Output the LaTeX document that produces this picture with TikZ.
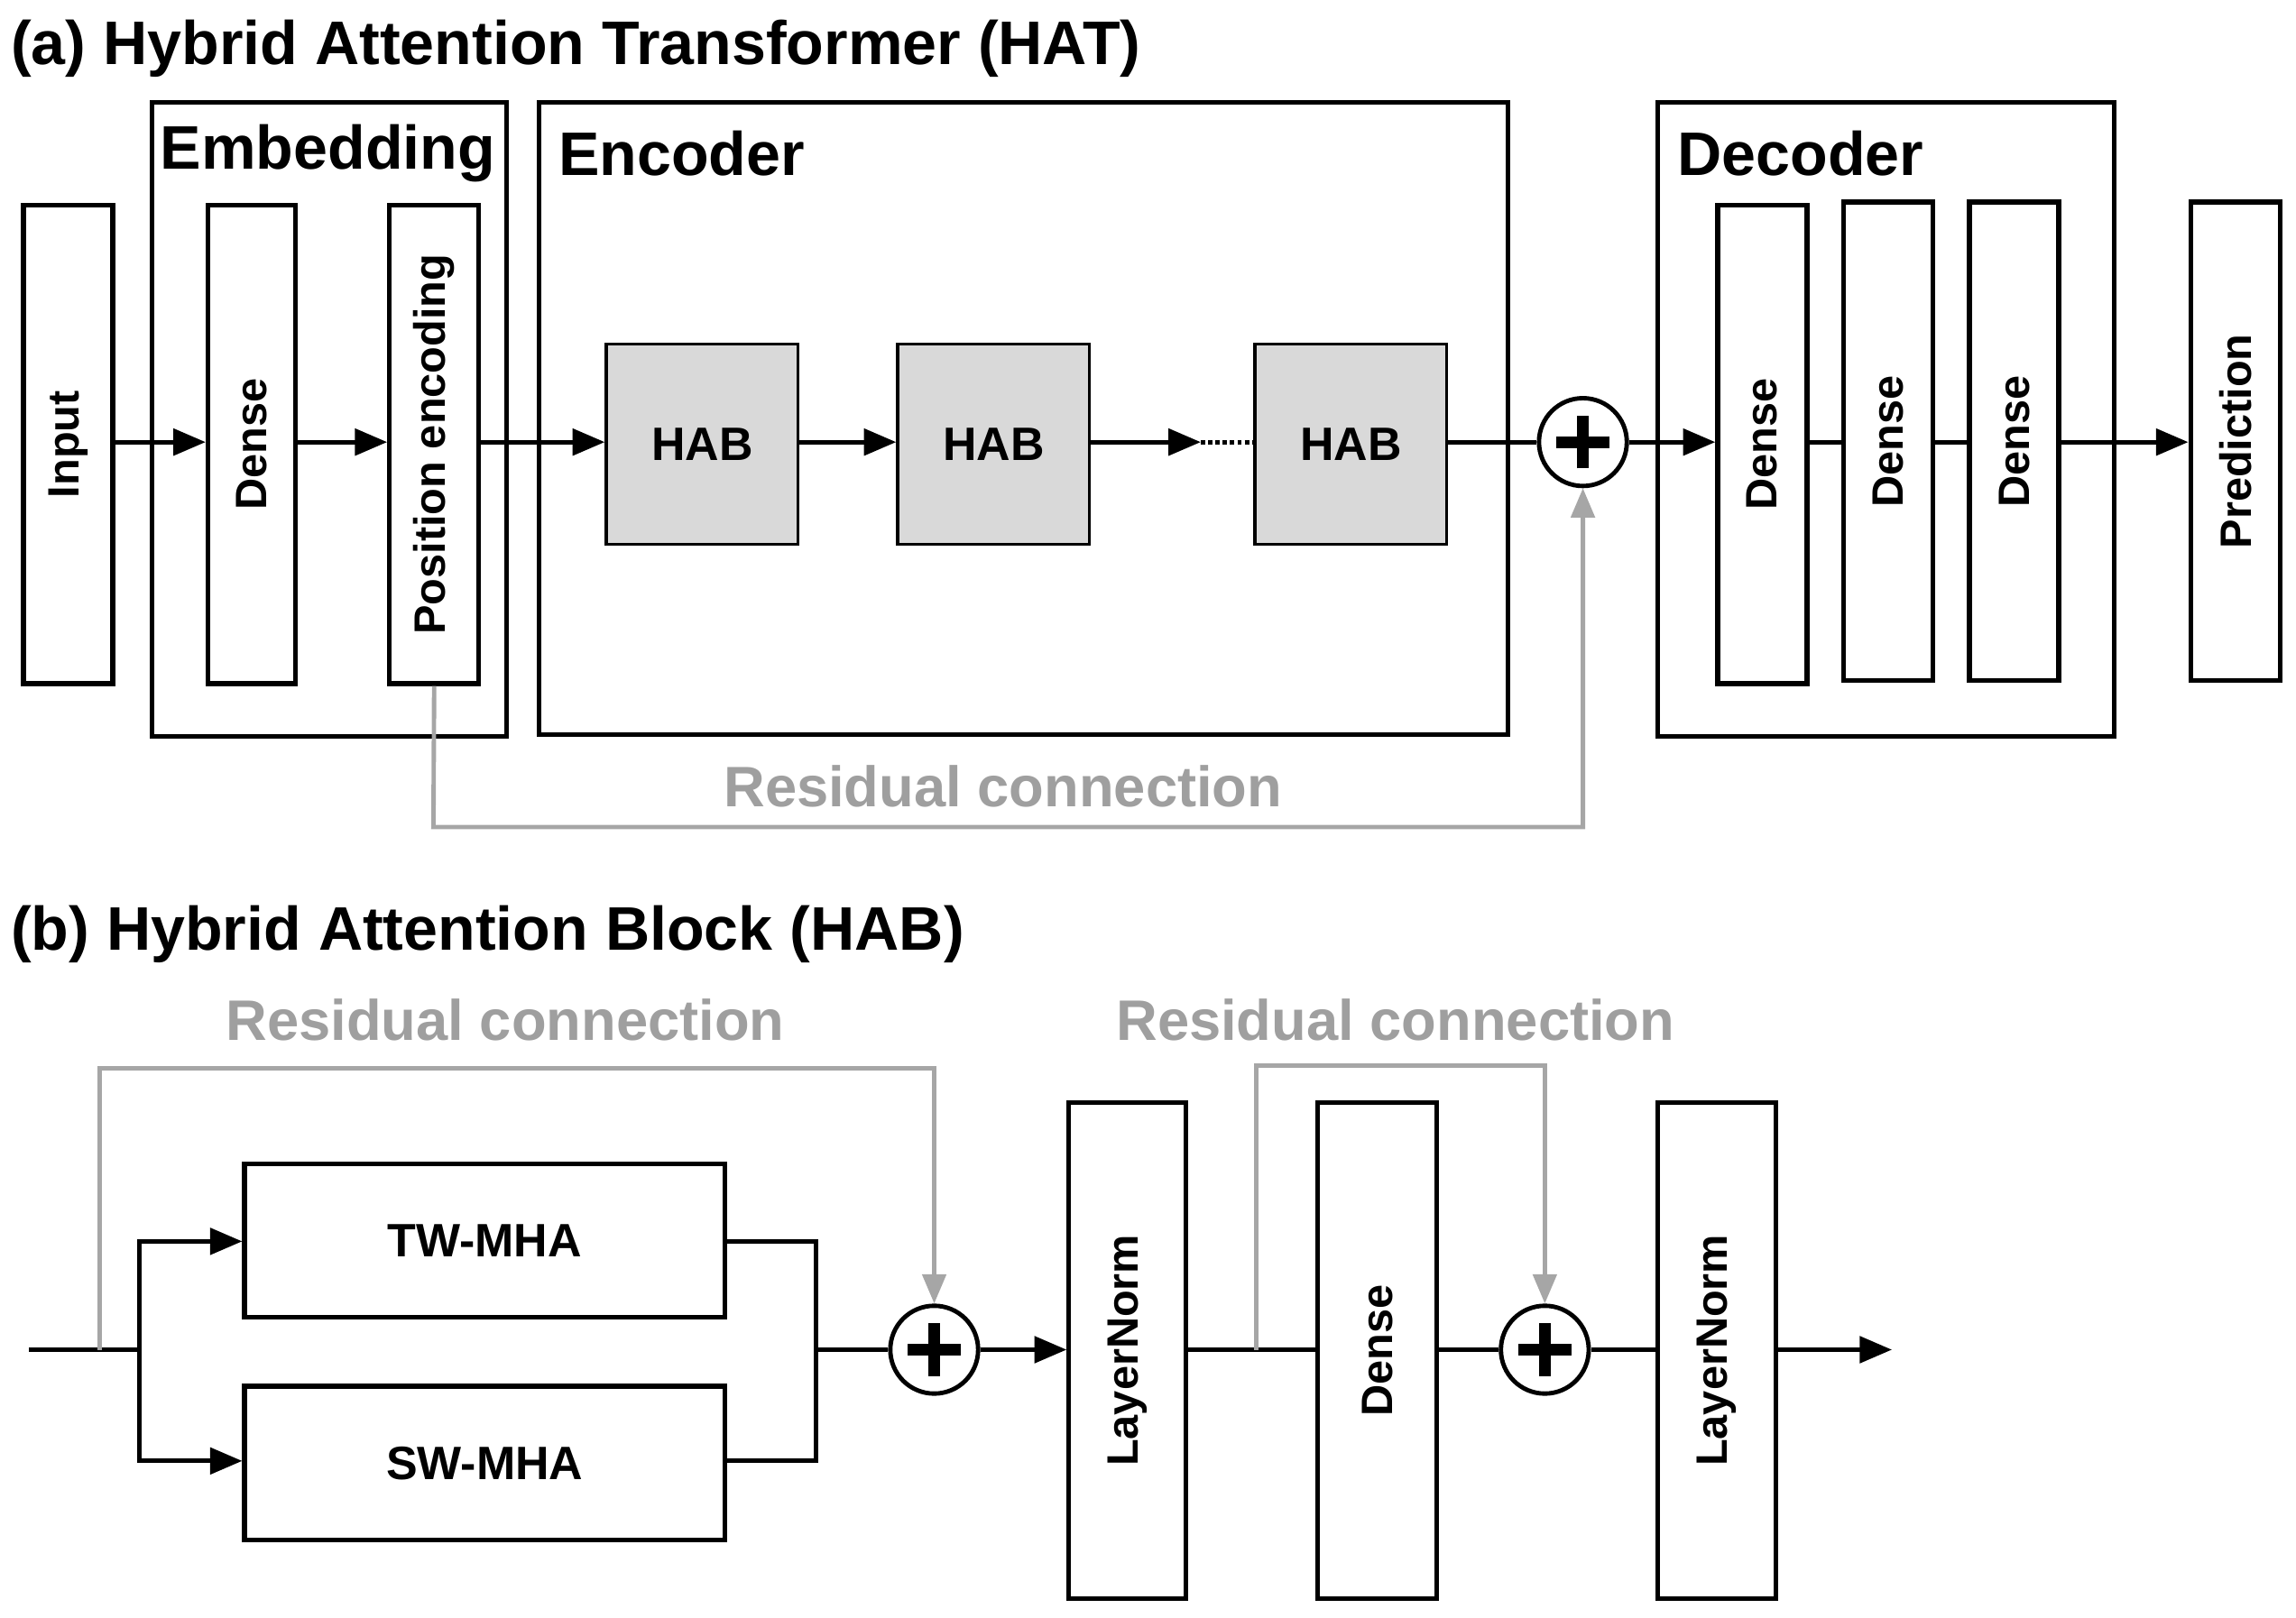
\documentclass[tikz,border=0pt]{standalone}
\usepackage{fontspec}
\setmainfont{Liberation Sans}
\usetikzlibrary{arrows.meta}
\begin{document}
\begin{tikzpicture}[x=1pt,y=-1pt,
 box/.style={draw,line width=3.2pt,inner sep=0pt},
 hab/.style={box,fill=gray!30,line width=2pt},
 vt/.style={rotate=90,font=\fontsize{30}{32}\selectfont\bfseries},
 ttl/.style={anchor=west,font=\fontsize{42}{44}\selectfont\bfseries},
 gl/.style={font=\fontsize{39}{41}\selectfont\bfseries,text=gray!75},
 ar/.style={line width=3pt,-{Triangle[length=22pt,width=18pt]}},
 ln/.style={line width=3pt},
 gar/.style={line width=3pt,draw=gray!70,-{Triangle[length=20pt,width=16pt]}},
 hb/.style={hab,minimum width=131pt,minimum height=137pt,font=\fontsize{32}{34}\selectfont\bfseries},
 plus/.style={circle,draw,line width=3pt,minimum size=60pt,inner sep=0pt,
   path picture={\draw[line width=8pt] ([xshift=-18pt]path picture bounding box.center)--([xshift=18pt]path picture bounding box.center);
   \draw[line width=8pt] ([yshift=-18pt]path picture bounding box.center)--([yshift=18pt]path picture bounding box.center);}}]
\useasboundingbox (0,0) rectangle (1568,1105);
% (a)
\node[ttl] (ta) at (4,33) {(a) Hybrid Attention Transformer (HAT)};
\draw[box] (104,70) rectangle (346,503);
\node[ttl] (le) at (106,105) {Embedding};
\draw[box] (368,70) rectangle (1030,502);
\node[ttl] (lenc) at (378,105) {Encoder};
\draw[box] (1132,70) rectangle (1444,503);
\node[ttl] (ldec) at (1142,105) {Decoder};
\node[box,minimum width=61pt,minimum height=327pt] (in) at (46.5,303.5) {};
\node[vt] at (in) {Input};
\node[box,minimum width=60pt,minimum height=327pt] (d0) at (172,303.5) {};
\node[vt] at (d0) {Dense};
\node[box,minimum width=61pt,minimum height=327pt] (pe) at (296.5,303.5) {};
\node[vt] at (pe) {Position encoding};
\node[hb] (h1) at (479.5,303.5) {HAB};
\node[hb] (h2) at (678.5,303.5) {HAB};
\node[hb] (h3) at (922.5,303.5) {HAB};
\node[plus] (p0) at (1081,302) {};
\node[box,minimum width=61pt,minimum height=327pt] (e1) at (1203.5,303.5) {};
\node[vt] at (e1) {Dense};
\node[box,minimum width=61pt,minimum height=327pt] (e2) at (1289.5,301.5) {};
\node[vt] at (e2) {Dense};
\node[box,minimum width=61pt,minimum height=327pt] (e3) at (1375.5,301.5) {};
\node[vt] at (e3) {Dense};
\node[box,minimum width=61pt,minimum height=327pt] (pr) at (1526.5,301.5) {};
\node[vt] at (pr) {Prediction};
\draw[ar] (in.east|-0,302) -- (d0.west|-0,302);
\draw[ar] (d0.east|-0,302) -- (pe.west|-0,302);
\draw[ar] (pe.east|-0,302) -- (h1.west|-0,302);
\draw[ar] (h1.east|-0,302) -- (h2.west|-0,302);
\coordinate (dt) at (820,302);
\draw[ar] (h2.east|-0,302) -- (dt);
\draw[line width=3pt,dotted] (dt) -- (h3.west|-0,302);
\draw[ln] (h3.east|-0,302) -- (p0.west);
\draw[ar] (p0.east) -- (e1.west|-0,302);
\draw[ln] (e1.east|-0,302) -- (e2.west|-0,302);
\draw[ln] (e2.east|-0,302) -- (e3.west|-0,302);
\draw[ar] (e3.east|-0,302) -- (pr.west|-0,302);
\draw[gar] (pe.south) -- (296,565) -- (1081,565) -- (p0.south);
\node[gl] (r0) at (685,537) {Residual connection};
% (b)
\node[ttl] (tb) at (4,638) {(b) Hybrid Attention Block (HAB)};
\node[gl] (r1) at (345,697) {Residual connection};
\node[gl] (r2) at (953,697) {Residual connection};
\node[box,minimum width=328pt,minimum height=105pt,font=\fontsize{32}{34}\selectfont\bfseries] (tw) at (331,847.5) {TW-MHA};
\node[box,minimum width=328pt,minimum height=105pt,font=\fontsize{32}{34}\selectfont\bfseries] (sw) at (331,999.5) {SW-MHA};
\node[plus] (p1) at (638,922) {};
\node[box,minimum width=80pt,minimum height=339pt] (n1) at (770,922.5) {};
\node[vt] at (n1) {LayerNorm};
\node[box,minimum width=81pt,minimum height=339pt] (dd) at (940.5,922.5) {};
\node[vt] at (dd) {Dense};
\node[plus] (p2) at (1055,922) {};
\node[box,minimum width=81pt,minimum height=339pt] (n2) at (1172.5,922.5) {};
\node[vt] at (n2) {LayerNorm};
\coordinate (s0) at (20,922);
\coordinate (br) at (95,922);
\coordinate (g1) at (68,922);
\coordinate (mg) at (557,922);
\coordinate (g2) at (858,922);
\coordinate (out) at (1292,922);
\draw[ln] (s0) -- (br);
\draw[ar] (br) -- (95,848) -- (tw.west|-0,848);
\draw[ar] (br) -- (95,998) -- (sw.west|-0,998);
\draw[ln] (tw.east|-0,848) -- (557,848) -- (557,998) -- (sw.east|-0,998);
\draw[ln] (mg) -- (p1.west);
\draw[ar] (p1.east) -- (n1.west|-0,922);
\draw[gar] (g1) -- (68,730) -- (638,730) -- (p1.north);
\draw[ln] (n1.east|-0,922) -- (dd.west|-0,922);
\draw[gar] (g2) -- (858,728) -- (1055,728) -- (p2.north);
\draw[ln] (dd.east|-0,922) -- (p2.west);
\draw[ln] (p2.east) -- (n2.west|-0,922);
\draw[ar] (n2.east|-0,922) -- (out);
\end{tikzpicture}
\end{document}
